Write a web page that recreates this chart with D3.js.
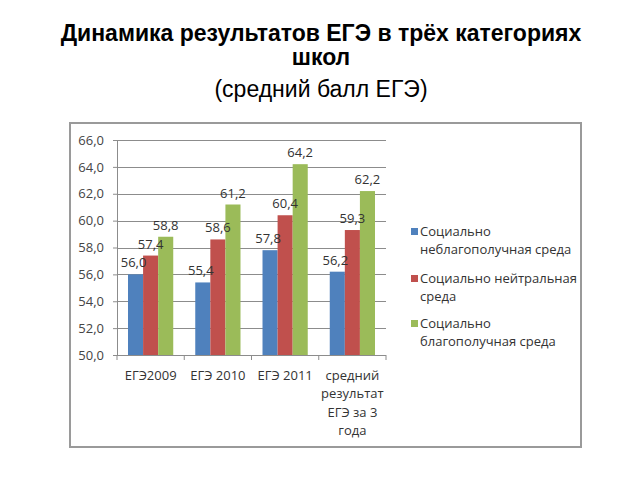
<!DOCTYPE html>
<html><head><meta charset="utf-8">
<script src="https://cdn.jsdelivr.net/npm/d3@7"></script>
<style>body{margin:0;background:#fff}svg{display:block}</style>
</head><body>
<svg id="c" width="640" height="480"></svg>
<script>
const categories = [["ЕГЭ2009"], ["ЕГЭ 2010"], ["ЕГЭ 2011"], ["средний", "результат", "ЕГЭ за 3", "года"]];
const seriesNames = [["Социально", "неблагополучная среда"], ["Социально нейтральная", "среда"], ["Социально", "благополучная среда"]];
const unfavorable = [56.0, 55.4, 57.8, 56.2];
const neutral = [57.4, 58.6, 60.4, 59.3];
const favorable = [58.8, 61.2, 64.2, 62.2];
const yTicks = [50, 52, 54, 56, 58, 60, 62, 64, 66];
const colors = ["#4F81BD", "#C0504D", "#9BBB59"];
const series = [unfavorable, neutral, favorable];
const fmt = v => v.toFixed(1).replace(".", ",");

const svg = d3.select("#c");
const font = "'Open Sans', 'Noto Sans', sans-serif";

// title
const t = svg.append("g").attr("font-family", "'Liberation Sans', Arial, sans-serif").attr("text-anchor", "middle").attr("fill", "#000");
t.append("text").attr("x", 321).attr("y", 41).attr("font-size", 23).attr("font-weight", "bold").text("Динамика результатов ЕГЭ в трёх категориях");
t.append("text").attr("x", 321).attr("y", 65).attr("font-size", 23).attr("font-weight", "bold").text("школ");
t.append("text").attr("x", 321).attr("y", 97).attr("font-size", 23).text("(средний балл ЕГЭ)");

// frame
svg.append("rect").attr("x", 70).attr("y", 123).attr("width", 511).attr("height", 324)
  .attr("fill", "#fff").attr("stroke", "#9a9a9a").attr("stroke-width", 2);

const pL = 117, pR = 386, pT = 140, pB = 355;
const x0 = d3.scaleBand().domain(d3.range(categories.length)).range([pL, pR]).padding(0);
const x1 = d3.scaleBand().domain(d3.range(series.length)).range([0, x0.bandwidth()]).paddingOuter(0.73).paddingInner(0);
const y = d3.scaleLinear().domain([50, 66]).range([pB, pT]);

// gridlines
svg.append("g").selectAll("line").data(yTicks.slice(1)).join("line")
  .attr("x1", pL).attr("x2", pR).attr("y1", d => Math.round(y(d)) + 0.5).attr("y2", d => Math.round(y(d)) + 0.5)
  .attr("stroke", "#8c8c8c").attr("stroke-width", 1);

// y axis
const ya = svg.append("g").attr("transform", `translate(${pL},0)`)
  .call(d3.axisLeft(y).tickValues(yTicks).tickFormat(fmt).tickSize(4).tickPadding(9));
ya.select(".domain").attr("stroke", "#8c8c8c");
ya.selectAll(".tick line").attr("stroke", "#8c8c8c");
ya.selectAll("text").attr("font-family", font).attr("font-size", 13).attr("fill", "#444");

// bars
const groups = svg.append("g").selectAll("g").data(series).join("g").attr("fill", (d, i) => colors[i]);
groups.each(function(vals, si) {
  d3.select(this).selectAll("rect").data(vals).join("rect")
    .attr("x", (v, ci) => x0(ci) + x1(si))
    .attr("width", x1.bandwidth())
    .attr("y", v => y(v))
    .attr("height", v => pB - y(v));
});

// value labels
series.forEach((vals, si) => {
  svg.append("g").selectAll("text").data(vals).join("text")
    .attr("x", (v, ci) => x0(ci) + x1(si) + x1.bandwidth() / 2 - (si === 0 ? 2 : 0))
    .attr("y", v => y(v) - 7)
    .attr("text-anchor", "middle").attr("font-family", font).attr("font-size", 13).attr("fill", "#333")
    .text(fmt);
});

// x axis
svg.append("line").attr("x1", pL).attr("x2", pR).attr("y1", pB + 0.5).attr("y2", pB + 0.5).attr("stroke", "#8c8c8c");
svg.append("g").selectAll("line").data(d3.range(categories.length + 1)).join("line")
  .attr("x1", i => pL + i * x0.step()).attr("x2", i => pL + i * x0.step())
  .attr("y1", pB).attr("y2", pB + 5).attr("stroke", "#8c8c8c");
const cl = svg.append("g").attr("font-family", font).attr("font-size", 13).attr("fill", "#333").attr("text-anchor", "middle");
categories.forEach((lines, ci) => {
  const tx = cl.append("text").attr("x", x0(ci) + x0.bandwidth() / 2).attr("y", 380);
  lines.forEach((l, li) => tx.append("tspan").attr("x", x0(ci) + x0.bandwidth() / 2).attr("dy", li ? 18.3 : 0).text(l));
});

// legend
const lg = svg.append("g").attr("font-family", font).attr("font-size", 13).attr("fill", "#333");
const legY = [231, 278, 323];
seriesNames.forEach((lines, i) => {
  lg.append("rect").attr("x", 411).attr("y", legY[i] - 3).attr("width", 7).attr("height", 7).attr("fill", colors[i]);
  const tx = lg.append("text").attr("x", 420).attr("y", legY[i] + 5);
  lines.forEach((l, li) => tx.append("tspan").attr("x", 420).attr("dy", li ? 17.5 : 0).text(l));
});
</script>
</body></html>
